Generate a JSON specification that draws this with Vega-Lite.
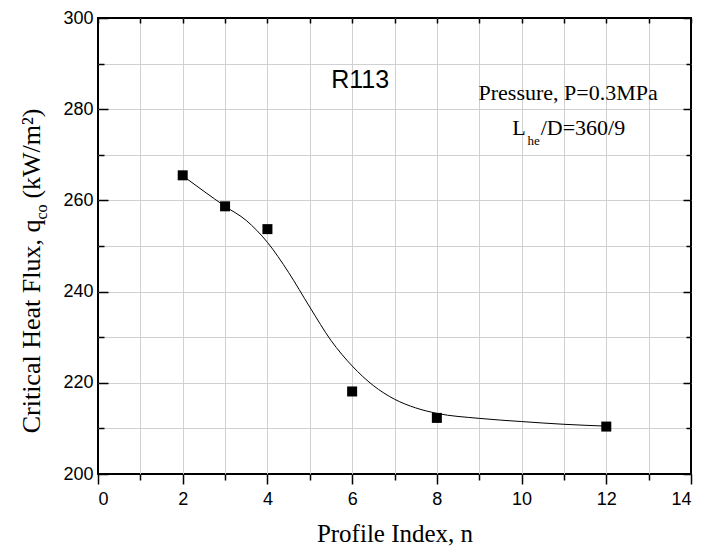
{
  "$schema": "https://vega.github.io/schema/vega-lite/v6.json",
  "width": 593,
  "height": 456,
  "autosize": "none",
  "padding": {"left": 98, "top": 18, "right": 10, "bottom": 74},
  "background": "white",
  "config": {
    "view": {"stroke": "black", "strokeWidth": 2},
    "axis": {
      "domain": false,
      "tickColor": "black",
      "tickWidth": 1.5,
      "labelFont": "Liberation Sans",
      "labelFontSize": 18,
      "labelColor": "black",
      "titleFont": "Liberation Serif",
      "titleFontSize": 25,
      "titleFontWeight": "normal",
      "titleColor": "black",
      "gridColor": "#d0d0d0",
      "gridWidth": 1
    }
  },
  "datasets": {
    "curve": [
      {"n": 2, "q": 265.4}, {"n": 2.5, "q": 262.0}, {"n": 3, "q": 258.7}, {"n": 3.5, "q": 255.6},
      {"n": 4, "q": 250.8}, {"n": 4.5, "q": 244.2}, {"n": 5, "q": 236.6}, {"n": 5.5, "q": 229.3},
      {"n": 6, "q": 223.7}, {"n": 6.5, "q": 219.4}, {"n": 7, "q": 216.4}, {"n": 7.5, "q": 214.5},
      {"n": 8, "q": 213.3}, {"n": 9, "q": 212.2}, {"n": 10, "q": 211.5}, {"n": 11, "q": 210.9},
      {"n": 12, "q": 210.5}
    ],
    "points": [
      {"n": 2, "q": 265.5}, {"n": 3, "q": 258.7}, {"n": 4, "q": 253.7},
      {"n": 6, "q": 218.1}, {"n": 8, "q": 212.3}, {"n": 12, "q": 210.4}
    ],
    "ytitle_a": [
      {"x": -1.375, "y": 255.8, "text": "Critical Heat Flux, q"}
    ],
    "ytitle_b": [
      {"x": -1.375, "y": 260.4, "text": "(kW/m²)"}
    ],
    "ytitle_sub": [
      {"x": -1.2, "y": 255.8, "text": "co"}
    ]
  },
  "layer": [
    {
      "data": {"name": "curve"},
      "mark": {"type": "line", "color": "black", "strokeWidth": 1, "interpolate": "monotone"},
      "encoding": {
        "x": {
          "field": "n", "type": "quantitative",
          "scale": {"domain": [0, 14], "nice": false, "zero": false},
          "axis": {
            "orient": "bottom",
            "values": [0,1,2,3,4,5,6,7,8,9,10,11,12,13,14],
            "tickSize": {"condition": {"test": "datum.value % 2 === 0", "value": 10}, "value": 6},
            "labelExpr": "datum.value % 2 === 0 ? datum.label : ''",
            "labelPadding": 6,
            "grid": true,
            "gridColor": {"condition": {"test": "datum.value === 0 || datum.value === 14", "value": "transparent"}, "value": "#d0d0d0"},
            "title": "Profile Index, n",
            "titlePadding": 13
          }
        },
        "y": {
          "field": "q", "type": "quantitative",
          "scale": {"domain": [200, 300], "nice": false, "zero": false},
          "axis": {
            "orient": "left",
            "values": [200,210,220,230,240,250,260,270,280,290,300],
            "tickSize": {"condition": {"test": "datum.value % 20 === 0", "value": -10}, "value": -6},
            "labelExpr": "datum.value % 20 === 0 ? datum.label : ''",
            "labelPadding": 15,
            "grid": true,
            "gridColor": {"condition": {"test": "datum.value === 200 || datum.value === 300", "value": "transparent"}, "value": "#d0d0d0"},
            "title": null
          }
        }
      }
    },
    {
      "data": {"name": "points"},
      "mark": {"type": "point", "shape": "square", "filled": true, "size": 100, "color": "black", "opacity": 1},
      "encoding": {
        "x": {
          "field": "n", "type": "quantitative",
          "scale": {"domain": [0, 14], "nice": false, "zero": false},
          "axis": {"orient": "top", "values": [0,1,2,3,4,5,6,7,8,9,10,11,12,13,14], "tickSize": -5, "labels": false, "grid": false, "title": null}
        },
        "y": {
          "field": "q", "type": "quantitative",
          "scale": {"domain": [200, 300], "nice": false, "zero": false},
          "axis": {
            "orient": "right",
            "values": [200,210,220,230,240,250,260,270,280,290,300],
            "tickSize": {"condition": {"test": "datum.value % 20 === 0", "value": -8}, "value": -5},
            "labels": false, "grid": false, "title": null
          }
        }
      }
    },
    {
      "data": {"values": [{"x": 6.19, "y": 284.7, "text": "R113"}]},
      "mark": {"type": "text", "font": "Liberation Sans", "fontSize": 25, "align": "center", "baseline": "alphabetic", "color": "black"},
      "encoding": {
        "x": {"field": "x", "type": "quantitative", "scale": {"domain": [0, 14], "nice": false, "zero": false}, "axis": null},
        "y": {"field": "y", "type": "quantitative", "scale": {"domain": [200, 300], "nice": false, "zero": false}, "axis": null},
        "text": {"field": "text"}
      }
    },
    {
      "data": {"values": [{"x": 11.1, "y": 282.1, "text": "Pressure, P=0.3MPa"}]},
      "mark": {"type": "text", "font": "Liberation Serif", "fontSize": 22, "align": "center", "baseline": "alphabetic", "color": "black"},
      "encoding": {
        "x": {"field": "x", "type": "quantitative", "scale": {"domain": [0, 14], "nice": false, "zero": false}, "axis": null},
        "y": {"field": "y", "type": "quantitative", "scale": {"domain": [200, 300], "nice": false, "zero": false}, "axis": null},
        "text": {"field": "text"}
      }
    },
    {
      "data": {"values": [
        {"x": 9.78, "y": 274.4, "text": "L"},
        {"x": 10.45, "y": 274.4, "text": "/D=360/9"}
      ]},
      "mark": {"type": "text", "font": "Liberation Serif", "fontSize": 22, "align": "left", "baseline": "alphabetic", "color": "black"},
      "encoding": {
        "x": {"field": "x", "type": "quantitative", "scale": {"domain": [0, 14], "nice": false, "zero": false}, "axis": null},
        "y": {"field": "y", "type": "quantitative", "scale": {"domain": [200, 300], "nice": false, "zero": false}, "axis": null},
        "text": {"field": "text"}
      }
    },
    {
      "data": {"values": [{"x": 10.14, "y": 272.2, "text": "he"}]},
      "mark": {"type": "text", "font": "Liberation Serif", "fontSize": 13, "align": "left", "baseline": "alphabetic", "color": "black"},
      "encoding": {
        "x": {"field": "x", "type": "quantitative", "scale": {"domain": [0, 14], "nice": false, "zero": false}, "axis": null},
        "y": {"field": "y", "type": "quantitative", "scale": {"domain": [200, 300], "nice": false, "zero": false}, "axis": null},
        "text": {"field": "text"}
      }
    },
    {
      "data": {"name": "ytitle_a"},
      "mark": {"type": "text", "font": "Liberation Serif", "fontSize": 26, "angle": 270, "align": "right", "baseline": "alphabetic", "color": "black"},
      "encoding": {
        "x": {"field": "x", "type": "quantitative", "scale": {"domain": [0, 14], "nice": false, "zero": false}, "axis": null},
        "y": {"field": "y", "type": "quantitative", "scale": {"domain": [200, 300], "nice": false, "zero": false}, "axis": null},
        "text": {"field": "text"},
        "angle": {"value": 270}
      }
    },
    {
      "data": {"name": "ytitle_b"},
      "mark": {"type": "text", "font": "Liberation Serif", "fontSize": 26, "angle": 270, "align": "left", "baseline": "alphabetic", "color": "black"},
      "encoding": {
        "x": {"field": "x", "type": "quantitative", "scale": {"domain": [0, 14], "nice": false, "zero": false}, "axis": null},
        "y": {"field": "y", "type": "quantitative", "scale": {"domain": [200, 300], "nice": false, "zero": false}, "axis": null},
        "text": {"field": "text"},
        "angle": {"value": 270}
      }
    },
    {
      "data": {"name": "ytitle_sub"},
      "mark": {"type": "text", "font": "Liberation Serif", "fontSize": 16, "angle": 270, "align": "left", "baseline": "alphabetic", "color": "black"},
      "encoding": {
        "x": {"field": "x", "type": "quantitative", "scale": {"domain": [0, 14], "nice": false, "zero": false}, "axis": null},
        "y": {"field": "y", "type": "quantitative", "scale": {"domain": [200, 300], "nice": false, "zero": false}, "axis": null},
        "text": {"field": "text"},
        "angle": {"value": 270}
      }
    }
  ],
  "resolve": {"axis": {"x": "independent", "y": "independent"}}
}
